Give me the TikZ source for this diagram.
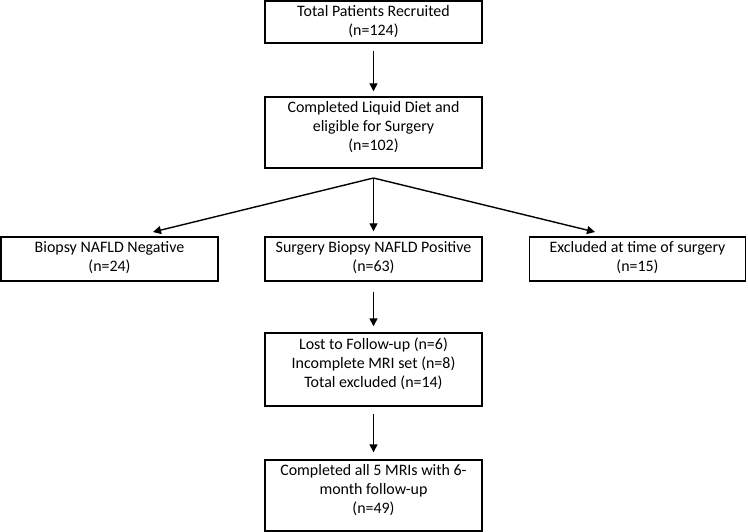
\documentclass[tikz,border=0pt]{standalone}
\usepackage{fontspec}
\setmainfont{Carlito}
\usetikzlibrary{arrows.meta,calc}
\begin{document}
\begin{tikzpicture}[x=1bp,y=-1bp,
 box/.style={draw, line width=1.4bp, minimum width=217bp, inner sep=0pt},
 txt/.style={align=center, inner sep=0pt, font=\fontsize{16}{19}\selectfont},
 arr/.style={line width=1.4bp, -{Triangle[length=8bp,width=8bp]}}]
\useasboundingbox (0,0) rectangle (748,532);
% boxes
\node[box, minimum height=42bp] (b1) at (373.5,22) {};
\node[box, minimum height=71bp] (b2) at (373.5,132.5) {};
\node[box, minimum height=44bp] (bl) at (109.5,259) {};
\node[box, minimum height=44bp] (bm) at (373.5,259) {};
\node[box, minimum height=44bp, minimum width=216bp] (br) at (637.5,259) {};
\node[box, minimum height=73bp] (b3) at (373.5,369.5) {};
\node[box, minimum height=71bp] (b4) at (373.5,495.5) {};
% texts
\node[txt] (t1) at ($(b1)+(0,-0.5)$) {Total Patients Recruited\\(n=124)};
\node[txt] (t2) at ($(b2)+(0,-5)$) {Completed Liquid Diet and\\eligible for Surgery\\(n=102)};
\node[txt] (tl) at ($(bl)+(0,-1)$) {Biopsy NAFLD Negative\\(n=24)};
\node[txt] (tm) at ($(bm)+(0,-1)$) {Surgery Biopsy NAFLD Positive\\(n=63)};
\node[txt] (tr) at ($(br)+(0,-1)$) {Excluded at time of surgery\\(n=15)};
\node[txt] (t3) at ($(b3)+(0,-6)$) {Lost to Follow-up (n=6)\\Incomplete MRI set (n=8)\\Total excluded (n=14)};
\node[txt] (t4) at ($(b4)+(0,-5.5)$) {Completed all 5 MRIs with 6-\\month follow-up\\(n=49)};
% connectors
\coordinate (split) at (373.5,178);
\coordinate (la) at (153,232);
\coordinate (ra) at (595,232);
\draw[arr, shorten <=7bp, shorten >=5bp] (b1.south) -- (b2.north);
\draw[arr] (split) -- (la);
\draw[arr] (split) -- (ra);
\draw[arr, shorten >=5bp] (split) -- (bm.north);
\draw[arr, shorten <=10bp, shorten >=6bp] (bm.south) -- (b3.north);
\draw[arr, shorten <=7bp, shorten >=7bp] (b3.south) -- (b4.north);
\end{tikzpicture}
\end{document}
